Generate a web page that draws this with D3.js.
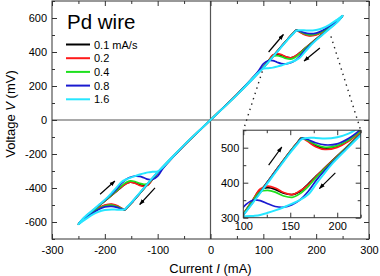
<!DOCTYPE html>
<html><head><meta charset="utf-8">
<script src="https://cdn.jsdelivr.net/npm/d3@7"></script>
<style>body{margin:0;background:#fff}svg{display:block;font-family:"Liberation Sans",Arial,sans-serif}</style>
</head><body><svg id="c" width="380" height="276"></svg>
<script>
// ---- data (current in mA, voltage in mV) ----
const loopCurrent = [0,50,100,130,150,158,162,168,177,187,200,212,225,240,250,
  240,225,210,195,185,178,169,160,152,143,134,126,118,110,100,90,50,0,
  -50,-100,-130,-150,-158,-162,-168,-177,-187,-200,-212,-225,-240,-250,
  -240,-225,-210,-195,-185,-178,-169,-160,-152,-143,-134,-126,-118,-110,-100,-90,-50,0];

const vBlack = [0,150,310,418,490,516,528,521,506,498,504,520,548,584,612,
  580,542,502,464,438,420,396,374,366,370,381,386,380,350,311,280,150,0,
  -150,-310,-418,-490,-516,-528,-521,-506,-498,-504,-520,-548,-584,-612,
  -580,-542,-502,-464,-438,-420,-396,-374,-366,-370,-381,-386,-380,-350,-311,-280,-150,0];
const vRed = [0,150,310,418,490,516,528,519,503,495,501,518,547,584,612,
  579,541,501,463,437,419,394,376,366,372,385,390,382,350,311,280,150,0,
  -150,-310,-418,-490,-516,-528,-519,-503,-495,-501,-518,-547,-584,-612,
  -579,-541,-501,-463,-437,-419,-394,-376,-366,-372,-385,-390,-382,-350,-311,-280,-150,0];
const vGreen = [0,149,309,417,489,515,528,522,509,501,506,522,549,585,612,
  578,540,500,461,435,416,389,368,358,362,373,378,374,348,310,279,150,0,
  -149,-309,-417,-489,-515,-528,-522,-509,-501,-506,-522,-549,-585,-612,
  -578,-540,-500,-461,-435,-416,-389,-368,-358,-362,-373,-378,-374,-348,-310,-279,-150,0];
const vBlue = [0,149,308,416,488,514,527,524,514,508,511,526,552,587,613,
  577,538,498,458,430,408,375,350,337,330,332,340,349,350,330,285,150,0,
  -149,-308,-416,-488,-514,-527,-524,-514,-508,-511,-526,-552,-587,-613,
  -577,-538,-498,-458,-430,-408,-375,-350,-337,-330,-332,-340,-349,-350,-330,-285,-150,0];
const vCyan = [0,148,307,414,486,512,524,528,528,526,530,540,560,591,614,
  576,536,496,455,422,398,366,350,340,330,321,314,308,305,302,278,148,0,
  -148,-307,-414,-486,-512,-524,-528,-528,-526,-530,-540,-560,-591,-614,
  -576,-536,-496,-455,-422,-398,-366,-350,-340,-330,-321,-314,-308,-305,-302,-278,-148,0];

const seriesNames = ["0.1 mA/s","0.2","0.4","0.8","1.6"];
const seriesValues = [vBlack, vRed, vGreen, vBlue, vCyan];
const seriesColors = ["#000000","#ff1a1a","#1ee01e","#1a1ad0","#26e6ff"];

const xTicksMain = [-300,-200,-100,0,100,200,300];
const yTicksMain = [-600,-400,-200,0,200,400,600];
const xTicksInset = [100,150,200];
const yTicksInset = [300,400,500];

// main-plot points where dotted zoom lines start (mA, mV)
const zoomLinkStart = [[98,286],[228,492]];
// arrows: [from, to] in main coords
const arrowsMain = [[[110,400],[138,503]],[[207,424],[177,347]],[[-209,-437],[-181,-359]],[[-105,-399],[-134,-497]]];
const arrowsInset = [[[127,450],[141,502]],[[198,428],[181,383]]];

// ---- drawing ----
const svg = d3.select("#c");
const FONT = '"Liberation Sans",Arial,sans-serif';
const AX = "#333";

const x = d3.scaleLinear().domain([-300,300]).range([52,369]);
const y = d3.scaleLinear().domain([-700,700]).range([239,1]);
const xi = d3.scaleLinear().domain([100,225]).range([243.3,360.7]);
const yi = d3.scaleLinear().domain([300,550]).range([217.7,130.2]);

const defs = svg.append("defs");
defs.append("clipPath").attr("id","cm").append("rect")
  .attr("x",x(-300)).attr("y",y(700)).attr("width",x(300)-x(-300)).attr("height",y(-700)-y(700));
defs.append("clipPath").attr("id","ci").append("rect")
  .attr("x",xi(100)).attr("y",yi(550)).attr("width",xi(225)-xi(100)).attr("height",yi(300)-yi(550));
defs.append("marker").attr("id","ah").attr("viewBox","0 0 10 10").attr("refX",9).attr("refY",5)
  .attr("markerWidth",6).attr("markerHeight",6).attr("orient","auto").attr("markerUnits","userSpaceOnUse")
  .append("path").attr("d","M0,1.5L10,5L0,8.5z").attr("fill","#000");

function axes(g, xs, ys, xMaj, xMin, yMaj, yMin, padX, padY, labels) {
  const [x0,x1] = xs.range(), [y0,y1] = ys.range();
  const style = sel => { sel.select(".domain").remove(); sel.selectAll("line").attr("stroke",AX);
    sel.selectAll("text").attr("font-family",FONT).attr("font-size",11).attr("fill","#000"); };
  g.append("g").attr("transform",`translate(0,${y0})`)
    .call(d3.axisBottom(xs).tickValues(xMaj).tickSize(-5).tickPadding(padX).tickFormat(labels?String:""))
    .call(style);
  g.append("g").attr("transform",`translate(0,${y0})`)
    .call(d3.axisBottom(xs).tickValues(xMin).tickSize(-3).tickFormat("")).call(style);
  g.append("g").attr("transform",`translate(0,${y1})`)
    .call(d3.axisTop(xs).tickValues(xMaj).tickSize(-5).tickFormat("")).call(style);
  g.append("g").attr("transform",`translate(0,${y1})`)
    .call(d3.axisTop(xs).tickValues(xMin).tickSize(-3).tickFormat("")).call(style);
  g.append("g").attr("transform",`translate(${x0},0)`)
    .call(d3.axisLeft(ys).tickValues(yMaj).tickSize(-5).tickPadding(padY).tickFormat(labels?String:""))
    .call(style);
  g.append("g").attr("transform",`translate(${x0},0)`)
    .call(d3.axisLeft(ys).tickValues(yMin).tickSize(-3).tickFormat("")).call(style);
  g.append("g").attr("transform",`translate(${x1},0)`)
    .call(d3.axisRight(ys).tickValues(yMaj).tickSize(-5).tickFormat("")).call(style);
  g.append("g").attr("transform",`translate(${x1},0)`)
    .call(d3.axisRight(ys).tickValues(yMin).tickSize(-3).tickFormat("")).call(style);
  g.append("rect").attr("x",x0).attr("y",y1).attr("width",x1-x0).attr("height",y0-y1)
    .attr("fill","none").attr("stroke",AX).attr("stroke-width",1);
}

function curves(g, xs, ys, clip) {
  const line = d3.line().x((d,i)=>xs(loopCurrent[i])).y(d=>ys(d)).curve(d3.curveCatmullRom.alpha(0.5));
  const cg = g.append("g").attr("clip-path",`url(#${clip})`);
  seriesValues.forEach((vals,k)=>{
    cg.append("path").attr("d",line(vals)).attr("fill","none")
      .attr("stroke",seriesColors[k]).attr("stroke-width",k===4?2:1.7).attr("stroke-linejoin","round");
  });
}

function arrows(g, xs, ys, list) {
  list.forEach(([a,b])=>{
    g.append("line").attr("x1",xs(a[0])).attr("y1",ys(a[1])).attr("x2",xs(b[0])).attr("y2",ys(b[1]))
      .attr("stroke","#000").attr("stroke-width",1.2).attr("marker-end","url(#ah)");
  });
}

// main plot
const gm = svg.append("g");
gm.append("line").attr("x1",x(0)).attr("x2",x(0)).attr("y1",y(-700)).attr("y2",y(700)).attr("stroke","#555").attr("stroke-width",1.2);
gm.append("line").attr("x1",x(-300)).attr("x2",x(300)).attr("y1",y(0)).attr("y2",y(0)).attr("stroke","#555").attr("stroke-width",1.2);
axes(gm, x, y, xTicksMain, d3.range(-250,300,100), yTicksMain, d3.range(-700,701,200), 7, 5, true);
curves(gm, x, y, "cm");
arrows(gm, x, y, arrowsMain);

// dotted zoom lines
const corners = [[xi(100),yi(550)],[xi(225),yi(550)]];
zoomLinkStart.forEach((p,i)=>{
  gm.append("line").attr("x1",x(p[0])).attr("y1",y(p[1])).attr("x2",corners[i][0]).attr("y2",corners[i][1])
    .attr("stroke","#222").attr("stroke-width",1.4).attr("stroke-dasharray","1.4,4.2");
});

// inset
const gi = svg.append("g");
gi.append("rect").attr("x",xi(100)).attr("y",yi(550)).attr("width",xi(225)-xi(100)).attr("height",yi(300)-yi(550)).attr("fill","#fff");
curves(gi, xi, yi, "ci");
arrows(gi, xi, yi, arrowsInset);
axes(gi, xi, yi, xTicksInset, [125,175,225], yTicksInset, [350,450,550], 5, 4, true);

// axis titles
const xt = svg.append("text").attr("x",x(0)).attr("y",272.5).attr("text-anchor","middle")
  .attr("font-family",FONT).attr("font-size",13);
xt.append("tspan").text("Current ");
xt.append("tspan").attr("font-style","italic").text("I");
xt.append("tspan").text(" (mA)");
const yt = svg.append("text").attr("transform","translate(14.5,114) rotate(-90)").attr("text-anchor","middle")
  .attr("font-family",FONT).attr("font-size",13);
yt.append("tspan").text("Voltage ");
yt.append("tspan").attr("font-style","italic").text("V");
yt.append("tspan").text(" (mV)");

// legend
svg.append("text").attr("x",67).attr("y",28.5).attr("font-family",FONT).attr("font-size",20.5).text("Pd wire");
seriesNames.forEach((n,k)=>{
  const yy = 44.5 + k*13.7;
  svg.append("line").attr("x1",66).attr("x2",90).attr("y1",yy).attr("y2",yy)
    .attr("stroke",seriesColors[k]).attr("stroke-width",2);
  svg.append("text").attr("x",94).attr("y",yy+4).attr("font-family",FONT).attr("font-size",11).text(n);
});
</script></body></html>
